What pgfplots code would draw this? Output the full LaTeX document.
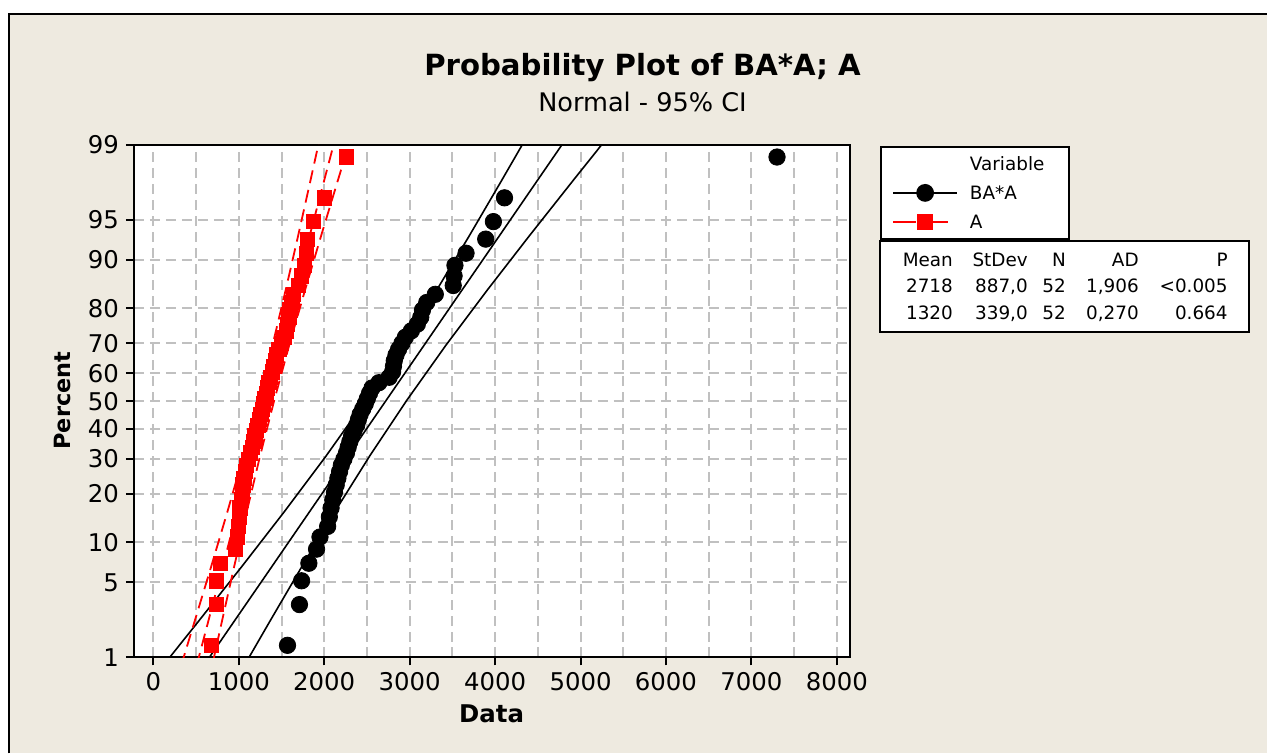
\documentclass[border=0pt]{standalone}
\usepackage{fontspec}
\setmainfont{DejaVu Sans}
\usepackage{pgfplots}
\pgfplotsset{compat=1.18}
\usepackage{pgfplotstable}
\definecolor{bg}{RGB}{238,234,224}
\definecolor{gridgray}{RGB}{192,192,192}

% z = normal score of median rank (i-0.3)/(n+0.4), n = 52
\pgfplotstableread{
x z
1570 -2.216
1710 -1.846
1735 -1.630
1820 -1.471
1910 -1.343
1950 -1.233
2040 -1.137
2060 -1.050
2080 -0.970
2100 -0.896
2120 -0.827
2140 -0.761
2160 -0.699
2180 -0.639
2200 -0.581
2230 -0.526
2260 -0.471
2280 -0.419
2300 -0.367
2320 -0.316
2350 -0.266
2380 -0.217
2400 -0.168
2420 -0.120
2450 -0.072
2480 -0.024
2505 0.024
2530 0.072
2560 0.120
2640 0.168
2760 0.217
2800 0.266
2810 0.316
2820 0.367
2840 0.419
2870 0.471
2910 0.526
2950 0.581
3020 0.639
3090 0.699
3130 0.761
3150 0.827
3200 0.896
3300 0.970
3510 1.050
3520 1.137
3530 1.233
3660 1.343
3890 1.471
3980 1.630
4110 1.846
7300 2.216
}\tblBA

\pgfplotstableread{
x z
680 -2.216
735 -1.846
740 -1.630
785 -1.471
960 -1.343
985 -1.233
995 -1.137
1005 -1.050
1015 -0.970
1030 -0.896
1040 -0.827
1050 -0.761
1060 -0.699
1075 -0.639
1090 -0.581
1110 -0.526
1135 -0.471
1160 -0.419
1175 -0.367
1190 -0.316
1205 -0.266
1225 -0.217
1240 -0.168
1260 -0.120
1275 -0.072
1290 -0.024
1305 0.024
1320 0.072
1335 0.120
1350 0.168
1370 0.217
1390 0.266
1410 0.316
1425 0.367
1440 0.419
1470 0.471
1500 0.526
1530 0.581
1555 0.639
1570 0.699
1585 0.761
1600 0.827
1620 0.896
1640 0.970
1700 1.050
1730 1.137
1770 1.233
1790 1.343
1800 1.471
1870 1.630
2000 1.846
2260 2.216
}\tblA

% fitted lines and 95% CI bounds (x at normal score z)
\pgfplotstableread{
z blo bfit bhi alo afit ahi
-2.4 114 589 1064 325 506 688
-2.0 526 944 1362 482 642 802
-1.5 1036 1388 1739 677 812 946
-1.0 1536 1831 2126 868 981 1094
-0.5 2019 2275 2530 1053 1151 1248
0.0 2477 2718 2959 1228 1320 1412
0.5 2906 3162 3417 1392 1490 1587
1.0 3310 3605 3900 1546 1659 1772
1.5 3697 4049 4400 1694 1829 1963
2.0 4074 4492 4910 1838 1998 2158
2.4 4372 4847 5322 1952 2134 2315
}\tblFit

\begin{document}
\begin{tikzpicture}
\begin{scope}[x=0.5pt,y=-0.5pt]
\fill[white] (0,0) rectangle (1268,754);
\fill[bg] (9,14) rectangle (1268,754);
\draw[line width=1pt] (9,754) -- (9,14) -- (1268,14);
\end{scope}

\begin{axis}[
  at={(67pt,-329pt)}, anchor=south west,
  scale only axis, width=358.5pt, height=256.5pt,
  xmin=-228, xmax=8158,
  ymin=-2.3263, ymax=2.3263,
  axis background/.style={fill=white},
  axis line style={line width=1pt},
  xtick={0,1000,2000,3000,4000,5000,6000,7000,8000},
  xticklabels={0,1000,2000,3000,4000,5000,6000,7000,8000},
  minor xtick={500,1500,2500,3500,4500,5500,6500,7500},
  ytick={-2.3263,-1.6449,-1.2816,-0.8416,-0.5244,-0.2533,0,0.2533,0.5244,0.8416,1.2816,1.6449,2.3263},
  yticklabels={1,5,10,20,30,40,50,60,70,80,90,95,99},
  tick pos=left, tick align=outside,
  major tick length=4pt, minor tick length=0pt,
  tick style={black, line width=1pt},
  grid=both,
  major grid style={gridgray, line width=1pt, dash pattern=on 5pt off 3pt},
  minor grid style={gridgray, line width=1pt, dash pattern=on 5pt off 3pt},
  ticklabel style={font=\fontsize{12.2}{14}\selectfont},
  legend image code/.code={\draw[mark repeat=2,mark phase=2,#1] plot coordinates {(0pt,0pt) (16pt,0pt) (32pt,0pt)};},
  legend style={at={(1.0418,0.998)}, anchor=north west, draw=black, line width=1pt, fill=white,
    inner xsep=5.5pt, inner ysep=5pt, row sep=7pt, column sep=6pt,
    font=\fontsize{9.2}{11}\selectfont,
    nodes={inner sep=0pt, text height=7pt, text depth=0pt}},
  legend cell align=left,
]
\addplot[black, line width=0.8pt, forget plot] table[x=blo, y=z] {\tblFit};
\addplot[black, line width=0.8pt, forget plot] table[x=bfit, y=z] {\tblFit};
\addplot[black, line width=0.8pt, forget plot] table[x=bhi, y=z] {\tblFit};
\addplot[red, line width=0.9pt, dash pattern=on 6.5pt off 3.5pt, forget plot] table[x=alo, y=z] {\tblFit};
\addplot[red, line width=0.9pt, dash pattern=on 6.5pt off 3.5pt, forget plot] table[x=afit, y=z] {\tblFit};
\addplot[red, line width=0.9pt, dash pattern=on 6.5pt off 3.5pt, forget plot] table[x=ahi, y=z] {\tblFit};
\addplot[only marks, mark=*, mark size=4.1pt, black, forget plot] table[x=x, y=z] {\tblBA};
\addplot[only marks, mark=square*, mark size=3.6pt, red, forget plot] table[x=x, y=z] {\tblA};
\addlegendimage{empty legend}
\addlegendentry{Variable\hspace*{7pt}}
\addlegendimage{black, line width=0.9pt, mark=*, mark size=4pt, mark options={solid}}
\addlegendentry{BA*A}
\addlegendimage{red, line width=0.8pt, dash pattern=on 11.5pt off 4.5pt, mark=square*, mark size=3.5pt, mark options={solid}}
\addlegendentry{A}
\end{axis}

\begin{scope}[x=0.5pt,y=-0.5pt]
\node[font=\bfseries\fontsize{14.6}{17}\selectfont] at (643,68) {Probability Plot of BA*A; A};
\node[font=\fontsize{12.8}{15}\selectfont] at (643,102) {Normal - 95\% CI};
\node[font=\bfseries\fontsize{12.2}{14}\selectfont] at (492,714) {Data};
\node[font=\bfseries\fontsize{11.2}{14}\selectfont, rotate=90] at (63,401) {Percent};
\draw[line width=1pt, fill=white] (881,241) rectangle (1250,332);
\begin{scope}[every node/.style={font=\fontsize{9.2}{11}\selectfont, anchor=base east, inner sep=0pt}]
\node at (954,266.5) {Mean};
\node at (1029,266.5) {StDev};
\node at (1067,266.5) {N};
\node at (1140,266.5) {AD};
\node at (1229,266.5) {P};
\node at (954,293) {2718};
\node at (1029,293) {887,0};
\node at (1067,293) {52};
\node at (1140,293) {1,906};
\node at (1229,293) {<0.005};
\node at (954,319.5) {1320};
\node at (1029,319.5) {339,0};
\node at (1067,319.5) {52};
\node at (1140,319.5) {0,270};
\node at (1229,319.5) {0.664};
\end{scope}
\end{scope}
\end{tikzpicture}
\end{document}
